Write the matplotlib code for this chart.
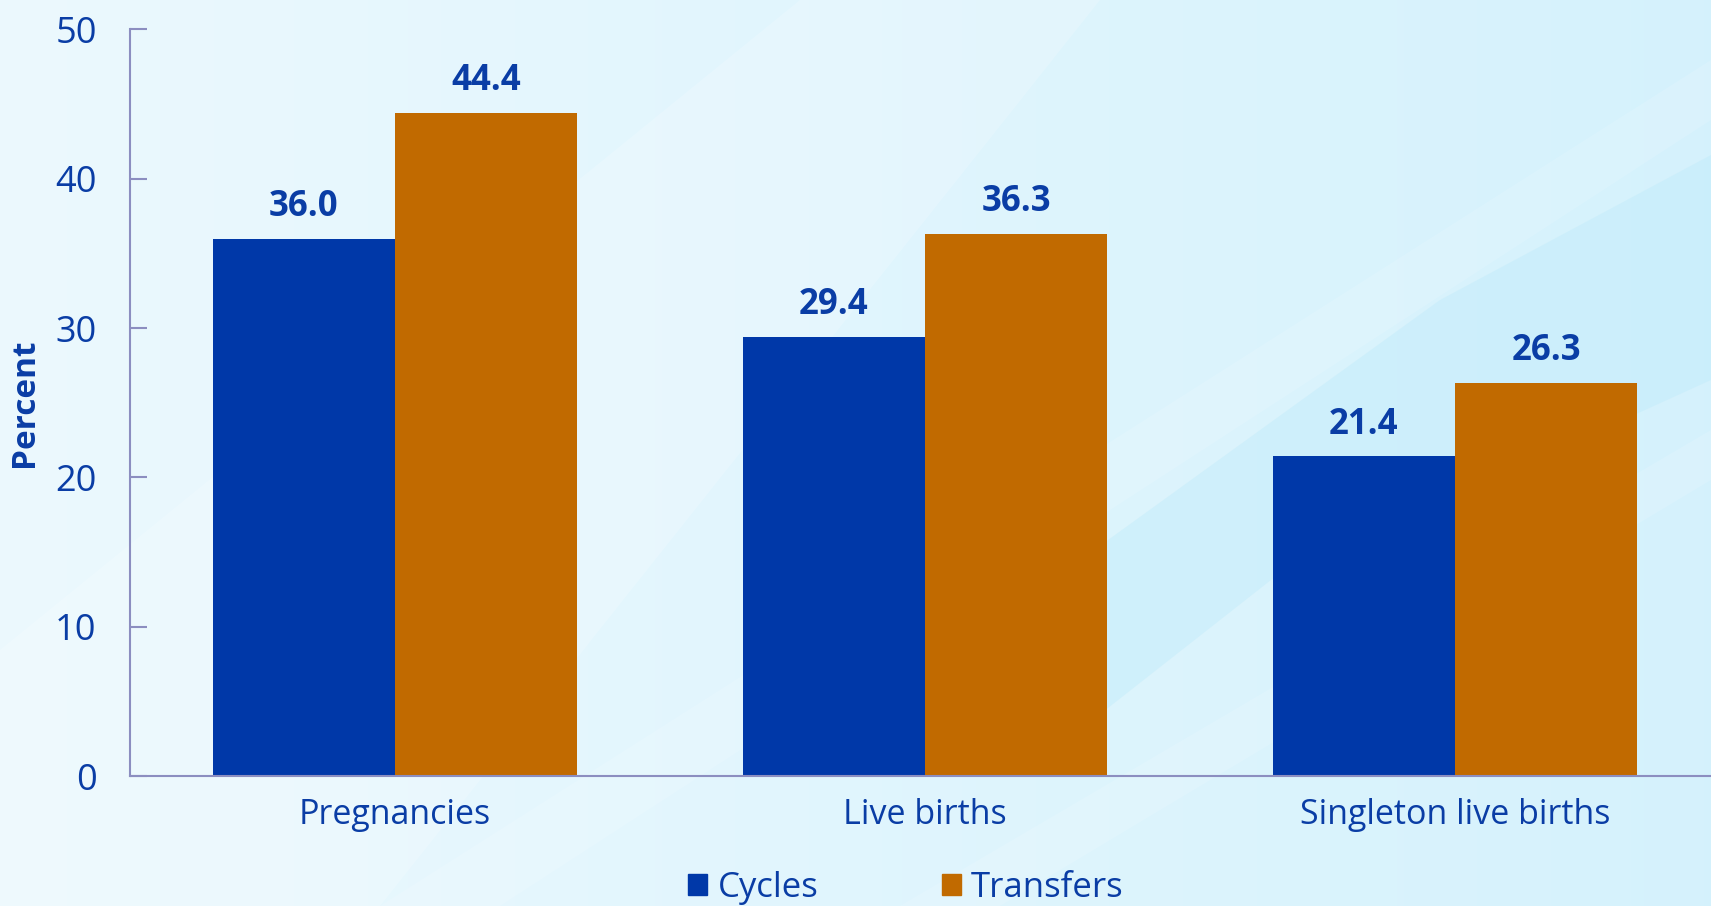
import numpy as np
import matplotlib.pyplot as plt
from matplotlib.patches import Patch, Polygon

categories = ["Pregnancies", "Live births", "Singleton live births"]
cycles = [36.0, 29.4, 21.4]
transfers = [44.4, 36.3, 26.3]
series_names = ["Cycles", "Transfers"]
yticks = [0, 10, 20, 30, 40, 50]

blue = "#0038A8"
orange = "#C16A00"
text_blue = "#0A3DA5"
axis_col = "#8C8EC0"

plt.rcParams['font.family'] = ['Open Sans', 'DejaVu Sans']

W, H = 1711, 906
fig = plt.figure(figsize=(W / 100, H / 100), dpi=100)

# background: soft blue gradient with diagonal streaks
bg = fig.add_axes([0, 0, 1, 1], zorder=-10)
bg.set_xlim(0, W)
bg.set_ylim(H, 0)
bg.axis("off")
gx = np.linspace(0, 1, 256)
grad = np.vstack([gx] * 2)
c0 = np.array([0.925, 0.975, 0.995])
c1 = np.array([0.835, 0.948, 0.99])
img = c0[None, None, :] * (1 - grad[..., None]) + c1[None, None, :] * grad[..., None]
bg.imshow(img, extent=[0, W, H, 0], aspect="auto")
bg.add_patch(Polygon([[0, 906], [0, 650], [800, 0], [1100, 0], [380, 906]],
                     closed=True, color="white", alpha=0.18, lw=0))
bg.add_patch(Polygon([[500, 906], [1711, 120], [1711, 60], [380, 906]],
                     closed=True, color="white", alpha=0.12, lw=0))
bg.add_patch(Polygon([[1040, 600], [1108, 540], [1440, 300], [1711, 155],
                      [1711, 380], [1271, 580], [1108, 708], [1040, 770]],
                     closed=True, color="#BDEAFA", alpha=0.4, lw=0))
bg.add_patch(Polygon([[1000, 906], [1711, 480], [1711, 430], [900, 906]],
                     closed=True, color="white", alpha=0.12, lw=0))

ax = fig.add_axes([130 / W, 130 / H, 1590 / W, 746.5 / H])
ax.patch.set_alpha(0)

x = np.arange(len(categories))
w = 0.344
b1 = ax.bar(x - w / 2, cycles, w, color=blue, label=series_names[0])
b2 = ax.bar(x + w / 2, transfers, w, color=orange, label=series_names[1])

for bars, vals in [(b1, cycles), (b2, transfers)]:
    for rect, v in zip(bars, vals):
        ax.annotate(f"{v:.1f}", (rect.get_x() + rect.get_width() / 2, v),
                    xytext=(0, 10), textcoords="offset points",
                    ha="center", va="bottom", fontsize=25, fontweight="bold",
                    color=text_blue)

ax.set_xlim(-0.5, 2.5)
ax.set_ylim(0, 50)
ax.set_yticks(yticks)
ax.set_xticks(x)
ax.set_xticklabels(categories)
for s in ["top", "right"]:
    ax.spines[s].set_visible(False)
for s in ["left", "bottom"]:
    ax.spines[s].set_color(axis_col)
    ax.spines[s].set_linewidth(1.5)
ax.tick_params(axis="y", direction="in", length=12, width=1.5, color=axis_col,
               labelsize=26, labelcolor=text_blue, pad=24)
ax.tick_params(axis="x", length=0, labelsize=24.5, labelcolor=text_blue, pad=16)
ax.set_ylabel("Percent", fontsize=24, fontweight="bold", color=text_blue)
ax.yaxis.set_label_coords(-0.056, 0.5)

handles = [Patch(color=blue), Patch(color=orange)]
fig.legend(handles, series_names, loc="center", bbox_to_anchor=(906 / W, 1 - 888 / H),
           ncol=2, frameon=False, fontsize=25, labelcolor=text_blue,
           handlelength=0.55, handleheight=0.55, handletextpad=0.3,
           columnspacing=3.55)

fig.savefig("out.png", dpi=100)
